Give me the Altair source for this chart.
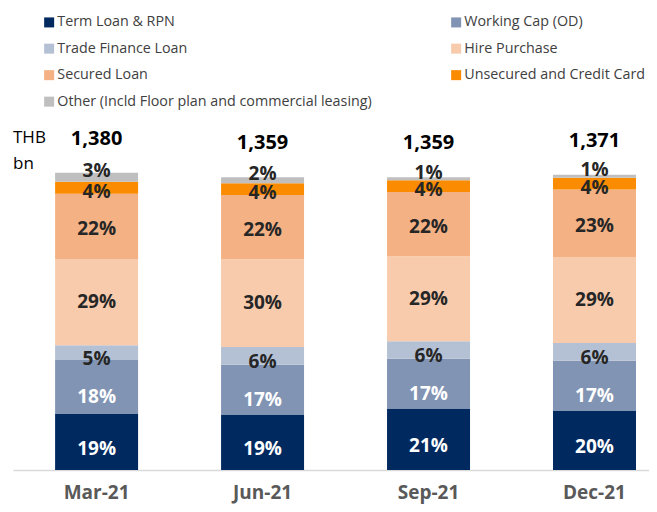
import altair as alt
import pandas as pd

months = ["Mar-21", "Jun-21", "Sep-21", "Dec-21"]
totals = [1380, 1359, 1359, 1371]
categories = [
    "Term Loan & RPN",
    "Working Cap (OD)",
    "Trade Finance Loan",
    "Hire Purchase",
    "Secured Loan",
    "Unsecured and Credit Card",
    "Other (Incld Floor plan and commercial leasing)",
]
colors = ["#002960", "#8194B3", "#B4C0D4", "#F8CBAD", "#F4B183", "#FB8B00", "#BFBFBF"]
term = [19, 19, 21, 20]
working = [18, 17, 17, 17]
trade = [5, 6, 6, 6]
hire = [29, 30, 29, 29]
secured = [22, 22, 22, 23]
unsecured = [4, 4, 4, 4]
other = [3, 2, 1, 1]

label_colors = ["white", "white", "#262626", "#262626", "#262626", "#262626", "#262626"]
label_dy = [7, 10, 6, 0, 3, 4, -6]

series = [term, working, trade, hire, secured, unsecured, other]
rows = []
for ci, (cat, vals) in enumerate(zip(categories, series)):
    for mi, m in enumerate(months):
        rows.append({"month": m, "cat": cat, "order": ci, "pct": vals[mi],
                     "value": vals[mi] * totals[mi] / 100.0,
                     "label": f"{vals[mi]}%"})
df = pd.DataFrame(rows)
tot_df = pd.DataFrame({"month": months, "total": totals,
                       "label": [f"{t:,}" for t in totals]})

FONT = "Open Sans"

x_enc = alt.X("month:N", sort=months, title=None,
              scale=alt.Scale(paddingInner=0.5, paddingOuter=0.166, align=0.764),
              axis=alt.Axis(domainColor="#D9D9D9", domainWidth=1.5, ticks=False,
                            labelFont=FONT, labelFontSize=19, labelFontWeight="bold",
                            labelColor="#595959", labelPadding=13, labelAngle=0))
y_scale = alt.Scale(domain=[0, 1500])

base = alt.Chart(df).transform_stack(
    stack="value", groupby=["month"], as_=["y0", "y1"],
    sort=[alt.SortField("order", order="ascending")]
).transform_calculate(mid="(datum.y0 + datum.y1) / 2")

bars = base.mark_bar().encode(
    x=x_enc,
    y=alt.Y("y0:Q", scale=y_scale, axis=None),
    y2="y1:Q",
    color=alt.Color("cat:N", sort=categories,
                    scale=alt.Scale(domain=categories, range=colors),
                    legend=alt.Legend(title=None, orient="none", legendX=29, legendY=-132,
                                      direction="horizontal",
                                      columns=2, columnPadding=77, rowPadding=11.5,
                                      symbolType="square", symbolSize=100,
                                      symbolStrokeWidth=0, labelFont=FONT,
                                      labelFontSize=14.3, labelColor="#404040",
                                      labelLimit=500, labelOffset=1, padding=0)),
    order=alt.Order("order:Q"),
)

layers = [bars]
for ci, cat in enumerate(categories):
    t = base.transform_filter(alt.datum.cat == cat).mark_text(
        font=FONT, fontSize=19, fontWeight="bold", color=label_colors[ci],
        baseline="middle", dy=label_dy[ci]
    ).encode(x=alt.X("month:N", sort=months), y=alt.Y("mid:Q", scale=y_scale), text="label:N")
    layers.append(t)

totals_text = alt.Chart(tot_df).mark_text(
    font=FONT, fontSize=20, fontWeight="bold", color="black", baseline="middle", dy=-34
).encode(x=alt.X("month:N", sort=months), y=alt.Y("total:Q", scale=y_scale), text="label:N")
layers.append(totals_text)

unit_text = alt.Chart(pd.DataFrame({"t": [["THB", "bn"]]})).mark_text(
    font=FONT, fontSize=17, color="black", align="left", baseline="middle", lineHeight=26
).encode(x=alt.value(0), y=alt.value(-9), text="t")
layers.append(unit_text)

chart = alt.layer(*layers).properties(
    width=636, height=323,
    autosize=alt.AutoSizeParams(type="none"),
    padding={"left": 5, "top": 139, "right": 0, "bottom": 34},
).configure_view(stroke=None)

chart.save("out.html", embed_options={"renderer": "svg", "actions": False})
